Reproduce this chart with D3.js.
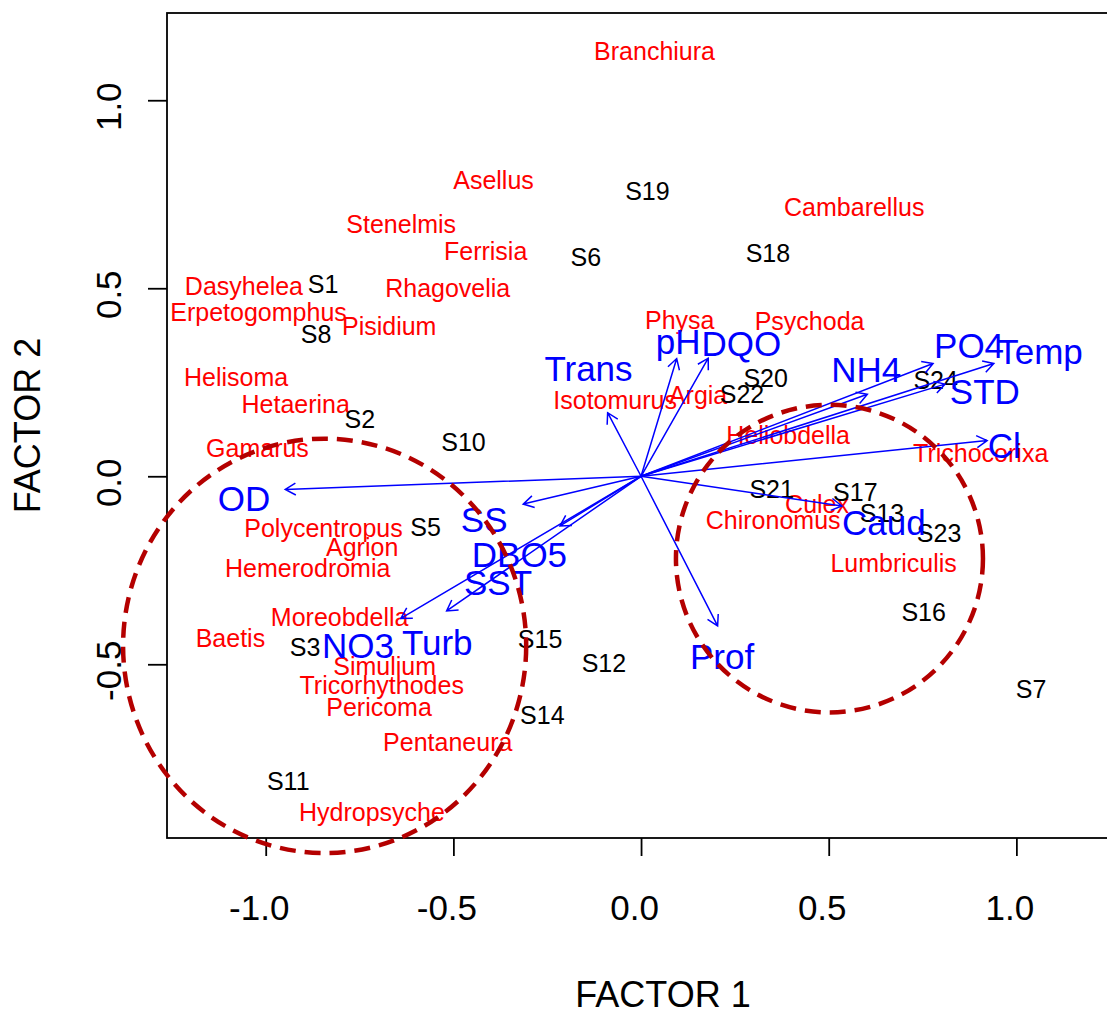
<!DOCTYPE html>
<html><head><meta charset="utf-8">
<script src="https://cdn.jsdelivr.net/npm/d3@7"></script>
<style>body{margin:0;background:#fff} svg{display:block}</style>
</head><body>
<svg id="c" width="1107" height="1009"></svg>
<script>
// ---- data ----
const speciesNames = ["Branchiura","Asellus","Stenelmis","Ferrisia","Dasyhelea","Rhagovelia","Erpetogomphus","Pisidium","Helisoma","Hetaerina","Gamarus","Polycentropus","Agrion","Hemerodromia","Moreobdella","Baetis","Simulium","Tricorhythodes","Pericoma","Pentaneura","Hydropsyche","Isotomurus","Physa","Psychoda","Argia","Cambarellus","Heliobdella","Trichocorixa","Culex","Chironomus","Lumbriculis"];
const speciesX = [0.036,-0.393,-0.639,-0.414,-1.058,-0.515,-1.019,-0.671,-1.079,-0.920,-1.022,-0.846,-0.743,-0.888,-0.803,-1.094,-0.683,-0.691,-0.698,-0.515,-0.717,-0.069,0.103,0.449,0.152,0.568,0.392,0.905,0.469,0.352,0.673];
const speciesY = [1.132,0.787,0.671,0.599,0.507,0.501,0.438,0.400,0.265,0.191,0.075,-0.138,-0.189,-0.243,-0.374,-0.431,-0.504,-0.556,-0.614,-0.707,-0.894,0.204,0.416,0.414,0.216,0.715,0.109,0.063,-0.074,-0.116,-0.231];

const siteNames = ["S1","S2","S3","S5","S6","S7","S8","S10","S11","S12","S13","S14","S15","S16","S17","S18","S19","S20","S21","S22","S23","S24"];
const siteX = [-0.847,-0.749,-0.895,-0.574,-0.147,1.039,-0.866,-0.473,-0.940,-0.099,0.642,-0.263,-0.269,0.753,0.571,0.338,0.017,0.332,0.348,0.269,0.794,0.785];
const siteY = [0.511,0.151,-0.455,-0.135,0.583,-0.565,0.379,0.092,-0.810,-0.496,-0.098,-0.635,-0.432,-0.360,-0.041,0.593,0.758,0.260,-0.034,0.219,-0.150,0.256];

const envNames = ["OD","SS","Trans","DBO5","SST","NO3","Turb","pH","DQO","NH4","PO4","Temp","STD","Cl","Caud","Prof"];
const envLabelX = [-1.058,-0.418,-0.140,-0.324,-0.381,-0.754,-0.543,0.099,0.267,0.600,0.874,1.063,0.916,0.968,0.647,0.216];
const envLabelY = [-0.058,-0.114,0.286,-0.207,-0.283,-0.451,-0.441,0.358,0.353,0.285,0.347,0.331,0.226,0.081,-0.123,-0.480];

const arrowNames = ["OD","SS","Trans","DBO5","SST","NO3","pH","DQO","NH4","PO4","Temp","STD","Cl","Caud","Prof"];
const arrowX = [-0.948,-0.314,-0.089,-0.216,-0.518,-0.640,0.095,0.179,0.603,0.778,0.940,0.810,0.922,0.535,0.204];
const arrowY = [-0.035,-0.074,0.169,-0.132,-0.358,-0.378,0.313,0.314,0.218,0.300,0.300,0.245,0.095,-0.079,-0.398];

const groupCX = [-0.843, 0.502];
const groupCY = [-0.451, -0.219];
const groupRX = [0.537, 0.409];
const groupRY = [0.551, 0.409];

const xTicks = [-1.0,-0.5,0.0,0.5,1.0];
const yTicks = [-0.5,0.0,0.5,1.0];
const xTitle = "FACTOR 1", yTitle = "FACTOR 2";

// ---- chart ----
const FONT = "'Liberation Sans', Arial, Helvetica, sans-serif";
const svg = d3.select("#c");
const L = 167, R = 1159, T = 13, B = 838;
const x = d3.scaleLinear().domain([-1.263, 1.38]).range([L, R]);
const y = d3.scaleLinear().domain([-0.962, 1.232]).range([B, T]);

// axes
const gx = svg.append("g").attr("transform", `translate(0,${B})`)
  .call(d3.axisBottom(x).tickValues(xTicks).tickFormat(d => d.toFixed(1)).tickSize(18).tickSizeOuter(0));
gx.select(".domain").remove();
gx.selectAll(".tick line").attr("stroke", "#000").attr("stroke-width", 1.8);
gx.selectAll(".tick text").attr("y", 82).attr("dy", 0).attr("dx", -7)
  .attr("font-size", 35).attr("font-family", FONT).attr("fill", "#000");

const gy = svg.append("g").attr("transform", `translate(${L},0)`)
  .call(d3.axisLeft(y).tickValues(yTicks).tickFormat(d => d.toFixed(1)).tickSize(19).tickSizeOuter(0));
gy.select(".domain").remove();
gy.selectAll(".tick line").attr("stroke", "#000").attr("stroke-width", 1.8);
gy.selectAll(".tick text").attr("x", null).attr("dy", null)
  .attr("transform", "translate(-46,6) rotate(-90)")
  .attr("text-anchor", "middle").attr("y", 0)
  .attr("font-size", 35).attr("font-family", FONT).attr("fill", "#000");

// box
svg.append("rect").attr("x", L).attr("y", T).attr("width", R - L).attr("height", B - T)
  .attr("fill", "none").attr("stroke", "#000").attr("stroke-width", 1.8);

// titles
svg.append("text").attr("x", (L + R) / 2).attr("y", 1006.5).attr("text-anchor", "middle")
  .attr("font-size", 36).attr("font-family", FONT).text(xTitle);
svg.append("text").attr("transform", `translate(40,${(T + B) / 2}) rotate(-90)`).attr("text-anchor", "middle")
  .attr("font-size", 36).attr("font-family", FONT).text(yTitle);

// labels
function labels(names, xs, ys, color, size) {
  svg.append("g").selectAll("text").data(names).join("text")
    .attr("x", (d, i) => x(xs[i])).attr("y", (d, i) => y(ys[i]))
    .attr("dy", "0.358em").attr("text-anchor", "middle")
    .attr("font-size", size).attr("font-family", FONT).attr("fill", color)
    .text(d => d);
}
labels(speciesNames, speciesX, speciesY, "#ff0000", 25);
labels(siteNames, siteX, siteY, "#000000", 25);
labels(envNames, envLabelX, envLabelY, "#0000ff", 35);

// arrows
const head = 12, ang = Math.PI / 6;
svg.append("g").selectAll("path").data(arrowNames).join("path")
  .attr("d", (d, i) => {
    const x0 = x(0), y0 = y(0), x1 = x(arrowX[i]), y1 = y(arrowY[i]);
    const a = Math.atan2(y1 - y0, x1 - x0);
    const p1 = [x1 - head * Math.cos(a - ang), y1 - head * Math.sin(a - ang)];
    const p2 = [x1 - head * Math.cos(a + ang), y1 - head * Math.sin(a + ang)];
    return `M${x0},${y0}L${x1},${y1}M${p1[0]},${p1[1]}L${x1},${y1}L${p2[0]},${p2[1]}`;
  })
  .attr("fill", "none").attr("stroke", "#0000ff").attr("stroke-width", 1.5);

// groups
svg.append("g").selectAll("ellipse").data(groupCX).join("ellipse")
  .attr("cx", (d, i) => x(groupCX[i])).attr("cy", (d, i) => y(groupCY[i]))
  .attr("rx", (d, i) => x(groupRX[i]) - x(0)).attr("ry", (d, i) => y(0) - y(groupRY[i]))
  .attr("fill", "none").attr("stroke", "#b40000").attr("stroke-width", 4.5)
  .attr("stroke-dasharray", "16,9");
</script>
</body></html>
